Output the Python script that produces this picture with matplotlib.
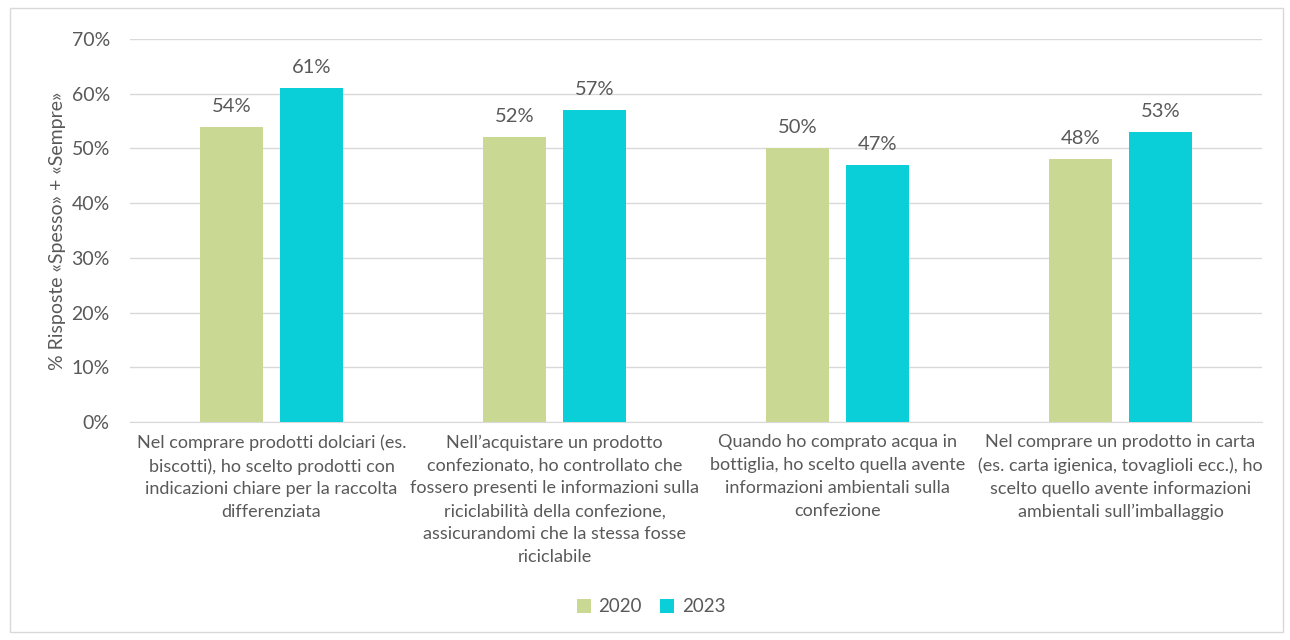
import matplotlib.pyplot as plt
import numpy as np
from matplotlib.patches import Rectangle

categorie = [
    "Nel comprare prodotti dolciari (es.\nbiscotti), ho scelto prodotti con\nindicazioni chiare per la raccolta\ndifferenziata",
    "Nell\u2019acquistare un prodotto\nconfezionato, ho controllato che\nfossero presenti le informazioni sulla\nriciclabilit\u00e0 della confezione,\nassicurandomi che la stessa fosse\nriciclabile",
    "Quando ho comprato acqua in\nbottiglia, ho scelto quella avente\ninformazioni ambientali sulla\nconfezione",
    "Nel comprare un prodotto in carta\n(es. carta igienica, tovaglioli ecc.), ho\nscelto quello avente informazioni\nambientali sull\u2019imballaggio",
]
anni = ["2020", "2023"]
valori_2020 = [0.54, 0.52, 0.50, 0.48]
valori_2023 = [0.61, 0.57, 0.47, 0.53]
colori = ["#C9D993", "#0BCFD8"]
testo = "#595959"

plt.rcParams['font.family'] = ['Lato', 'DejaVu Sans']

fig = plt.figure(figsize=(12.9, 6.4), dpi=100)
ax = fig.add_axes([130 / 1290, 1 - 422 / 640, 1132 / 1290, 383 / 640])

# cornice grigia attorno al grafico
fig.patches.append(Rectangle((10 / 1290, 8 / 640), 1273 / 1290, 624 / 640,
                             transform=fig.transFigure, fill=False,
                             edgecolor="#D9D9D9", linewidth=1))

x = np.arange(len(categorie))
w = 0.223
off = 0.141
for serie, d, col, lab in [(valori_2020, -off, colori[0], anni[0]),
                           (valori_2023, off, colori[1], anni[1])]:
    bars = ax.bar(x + d, serie, width=w, color=col, label=lab, zorder=3)
    for b, v in zip(bars, serie):
        ax.text(b.get_x() + b.get_width() / 2, v + 0.022, f"{v:.0%}",
                ha="center", va="bottom", fontsize=14.5, color=testo)

ax.set_xlim(-0.5, len(categorie) - 0.5)
ax.set_ylim(0, 0.70)
ax.set_yticks(np.arange(0, 0.71, 0.10))
ax.set_yticklabels([f"{t:.0%}" for t in np.arange(0, 0.71, 0.10)])
ax.yaxis.grid(True, color="#D9D9D9", linewidth=1, zorder=0)
ax.tick_params(axis="y", length=0, pad=14.5, labelsize=14, labelcolor=testo)
ax.set_xticks(x)
ax.set_xticklabels(categorie, fontsize=13, color=testo, linespacing=1.52)
ax.tick_params(axis="x", length=0, pad=9)
for s in ["top", "right", "left"]:
    ax.spines[s].set_visible(False)
ax.spines["bottom"].set_color("#D9D9D9")
ax.set_ylabel("% Risposte \u00abSpesso\u00bb + \u00abSempre\u00bb", fontsize=14,
              color=testo, labelpad=4)

fig.legend(loc="center", bbox_to_anchor=(651 / 1290, 1 - 607 / 640), ncol=2,
           frameon=False, fontsize=13.5, labelcolor=testo, handlelength=0.75,
           handleheight=0.75, handletextpad=0.4, columnspacing=1.0)

fig.savefig("out.png", dpi=100)
